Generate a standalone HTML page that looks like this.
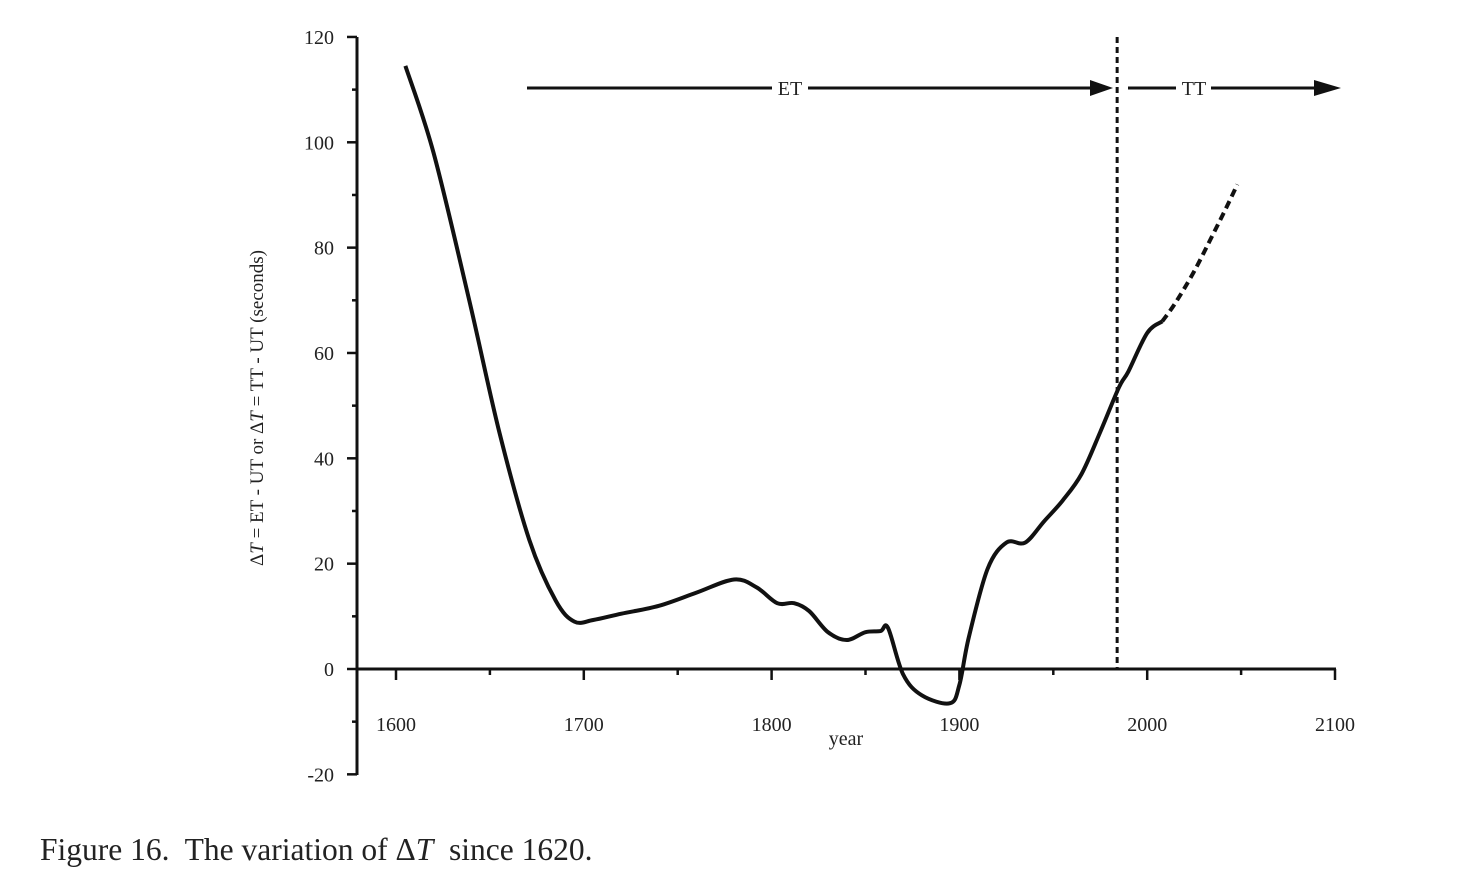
<!DOCTYPE html>
<html><head><meta charset="utf-8"><style>
body{margin:0;background:#fff;}
svg text{font-family:"Liberation Serif",serif;fill:#222;}
</style></head><body>
<svg width="1472" height="888" xmlns="http://www.w3.org/2000/svg">
<g id="axes"></g>
<g id="marks"></g>
<text x="40" y="860" font-size="31.5" style="white-space:pre">Figure 16.  The variation of Δ<tspan font-style="italic">T</tspan>  since 1620.</text>
<text transform="translate(263,408) rotate(-90)" text-anchor="middle" font-size="19">Δ<tspan font-style="italic">T</tspan> = ET - UT or Δ<tspan font-style="italic">T</tspan> = TT - UT (seconds)</text>
<text x="846" y="745" text-anchor="middle" font-size="20">year</text>
</svg>
<script>
const years = [1605,1620,1639,1655,1671,1685,1695,1705,1720,1740,1760,1780,1792,1803,1812,1820,1830,1840,1850,1858,1862,1870,1880,1895,1900,1905,1915,1925,1935,1945,1955,1965,1975,1985,1990,2000,2008];
const dt = [114.5,98,70,45,24.5,13,9,9.3,10.5,12,14.5,17,15.5,12.5,12.5,11,7,5.5,7,7.2,7.8,-1,-5,-6.5,-3,6,19,24,24,28,32,37,45,53.5,56.5,63.8,66];
const predYears = [2008,2015,2025,2035,2042,2048];
const predDt = [66,69.5,75.5,82.5,87.5,92];
const xTicks = [1600,1700,1800,1900,2000,2100];
const yTicks = [-20,0,20,40,60,80,100,120];
const splitYear = 1984;
const NS="http://www.w3.org/2000/svg";
const X=y=>396+(y-1600)*1.878, Y=v=>669-v*5.267;
function el(t,a,p){const e=document.createElementNS(NS,t);for(const k in a)e.setAttribute(k,a[k]);p.appendChild(e);return e;}
const ax=document.getElementById('axes'), mk=document.getElementById('marks');
let e=el('line',{x1:357,y1:37,x2:357,y2:775,stroke:'#111','stroke-width':3},ax);


e=el('line',{x1:357,y1:669,x2:1336,y2:669,stroke:'#111','stroke-width':3},ax);


for(let v=-20;v<=120;v+=10){const maj=v%20==0;el('line',{x1:maj?347:352,y1:Y(v),x2:357,y2:Y(v),stroke:'#111','stroke-width':2.5},ax);}
yTicks.forEach(v=>{const t=el('text',{x:334,y:Y(v)+7,'text-anchor':'end','font-size':20},ax);t.textContent=v;

});
for(let y=1600;y<=2100;y+=50){const maj=y%100==0;el('line',{x1:X(y),y1:669,x2:X(y),y2:maj?680:675,stroke:'#111','stroke-width':2.5},ax);}
xTicks.forEach(y=>{const t=el('text',{x:X(y),y:731,'text-anchor':'middle','font-size':20},ax);t.textContent=y;

});
function path(xs,vs){const p=xs.map((x,i)=>[X(x),Y(vs[i])]);let d=`M${p[0][0]},${p[0][1]}`;
for(let i=0;i<p.length-1;i++){const p0=p[i-1]||p[i],p1=p[i],p2=p[i+1],p3=p[i+2]||p2;
d+=` C${p1[0]+(p2[0]-p0[0])/6},${p1[1]+(p2[1]-p0[1])/6} ${p2[0]-(p3[0]-p1[0])/6},${p2[1]-(p3[1]-p1[1])/6} ${p2[0]},${p2[1]}`;}return d;}
e=el('path',{d:path(years,dt),fill:'none',stroke:'#111','stroke-width':4,'stroke-linejoin':'round'},mk);


e=el('path',{d:path(predYears,predDt),fill:'none',stroke:'#111','stroke-width':4,'stroke-dasharray':'8,5'},mk);


e=el('line',{x1:X(splitYear),y1:37,x2:X(splitYear),y2:669,stroke:'#111','stroke-width':3,'stroke-dasharray':'6,4'},mk);


el('line',{x1:527,y1:88,x2:772,y2:88,stroke:'#111','stroke-width':3},mk);
el('line',{x1:808,y1:88,x2:1095,y2:88,stroke:'#111','stroke-width':3},mk);
e=el('polygon',{points:'1090,80 1113,88 1090,96',fill:'#111'},mk);


e=el('text',{x:790,y:95,'text-anchor':'middle','font-size':20},mk);e.textContent='ET';


el('line',{x1:1128,y1:88,x2:1176,y2:88,stroke:'#111','stroke-width':3},mk);
el('line',{x1:1211,y1:88,x2:1320,y2:88,stroke:'#111','stroke-width':3},mk);
e=el('polygon',{points:'1314,80 1341,88 1314,96',fill:'#111'},mk);


e=el('text',{x:1194,y:95,'text-anchor':'middle','font-size':20},mk);e.textContent='TT';


</script>
</body></html>
